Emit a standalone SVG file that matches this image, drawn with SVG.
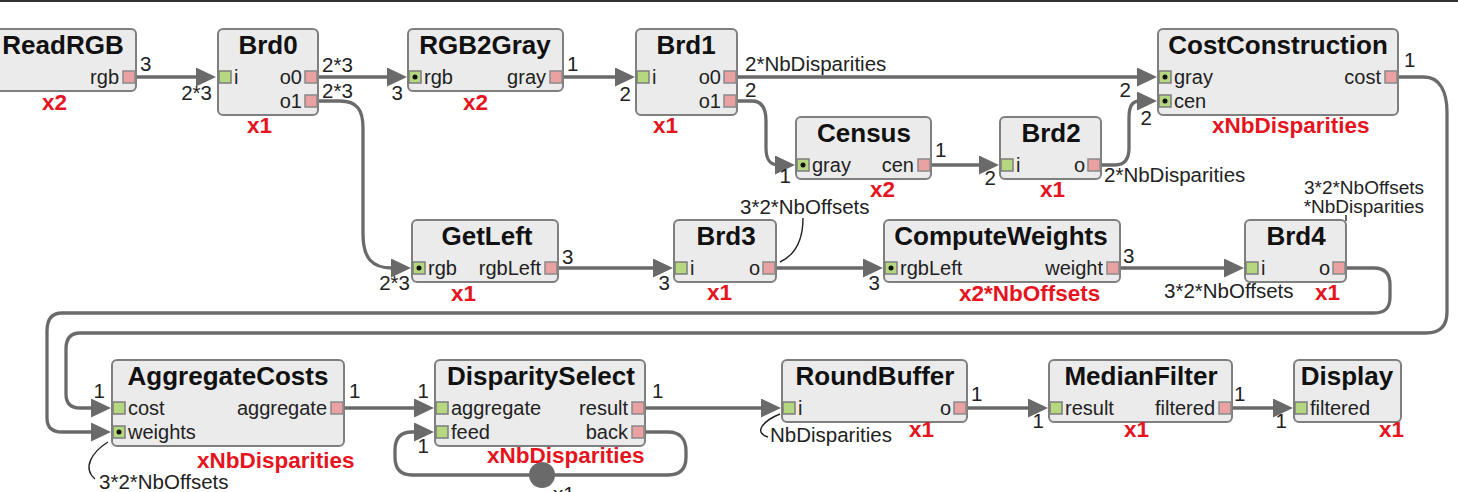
<svg xmlns="http://www.w3.org/2000/svg" width="1458" height="492" viewBox="0 0 1458 492">
<style>
text{font-family:"Liberation Sans",Arial,sans-serif}
.box{fill:#ebebeb;stroke:#7f7f7f;stroke-width:2}
.title{font-size:26px;font-weight:bold;fill:#111;text-anchor:middle}
.pl{font-size:20px;fill:#222}
.pr{font-size:20px;fill:#222;text-anchor:end}
.rate{font-size:20.5px;fill:#222}
.rateE{font-size:20.5px;fill:#222;text-anchor:end}
.rate2{font-size:19px;fill:#222;text-anchor:end}
.rep{font-size:22.5px;font-weight:bold;fill:#e5141e}
.pin{fill:#b4d77f;stroke:#7d7d7d;stroke-width:1.5}
.pout{fill:#e9a1a1;stroke:#8a8a8a;stroke-width:1.5}
.dot{fill:#111}
.conn{fill:none;stroke:#6a6a6a;stroke-width:3.3;marker-end:url(#ah)}
.lead{fill:none;stroke:#222;stroke-width:1.4}
</style>
<defs>
<marker id="ah" markerUnits="userSpaceOnUse" markerWidth="20" markerHeight="19" refX="12" refY="9.5" orient="auto" viewBox="0 0 20 19">
<path d="M0,0 L20,9.5 L0,19 z" fill="#6a6a6a"/>
</marker>
</defs>
<rect x="0" y="0" width="1458" height="2" fill="#333"/>

<g id="connectors">
<path class="conn" d="M136,77 H208"/>
<path class="conn" d="M318,77 H399"/>
<path class="conn" d="M318,101 H340 C357,101 363,110 363,128 V234 C363,258 372,268 392,268 H403"/>
<path class="conn" d="M563,77 H627"/>
<path class="conn" d="M737,77 H1149"/>
<path class="conn" d="M737,101 H752 C762,101 766,109 766,121 V148 C766,160 770,165 779,165 H787"/>
<path class="conn" d="M931,165 H991"/>
<path class="conn" d="M1101,165 H1115 C1125,165 1129,158 1129,148 V118 C1129,106 1132,101 1140,101 H1149"/>
<path class="conn" d="M558,268 H665"/>
<path class="conn" d="M776,268 H875"/>
<path class="conn" d="M1120,268 H1236"/>
<path class="conn" d="M1346,268 H1374 C1385,268 1390,274 1390,285 V297 C1390,308 1385,313 1374,313 H62 C51,313 47,320 47,331 V418 C47,427 52,432 62,432 H103"/>
<path class="conn" d="M1398,77 H1424 C1440,77 1447,92 1447,112 V312 C1447,326 1440,333 1426,333 H80 C70,333 66,339 66,349 V394 C66,403 70,408 80,408 H103"/>
<path class="conn" d="M344,408 H426"/>
<path class="conn" d="M645,432 H668 C680,432 686,439 686,451 V457 C686,469 680,475 668,475 H412 C401,475 395,469 395,457 V450 C395,438 401,432 412,432 H426"/>
<circle cx="542" cy="475" r="13" fill="#6a6a6a"/>
<text class="rate" x="553" y="501" fill="#333">x1</text>
<path class="conn" d="M645,408 H773"/>
<path class="conn" d="M967,408 H1040"/>
<path class="conn" d="M1232,408 H1285"/>

<path class="lead" d="M780,262 C795,255 803,240 803,218"/>
<path class="lead" d="M1346,215 V221"/>
<path class="lead" d="M108,442 C92,452 82,468 95,479"/>
<path class="lead" d="M780,414 C765,420 752,432 768,437"/>

<text class="rate" x="140" y="71">3</text>
<text class="rateE" x="212" y="100">2*3</text>
<text class="rate" x="322" y="72">2*3</text>
<text class="rateE" x="403" y="100">3</text>
<text class="rate" x="322" y="98">2*3</text>
<text class="rateE" x="410" y="290">2*3</text>
<text class="rate" x="567" y="71">1</text>
<text class="rateE" x="631" y="101">2</text>
<text class="rate" x="745" y="71">2*NbDisparities</text>
<text class="rate" x="745" y="97">2</text>
<text class="rateE" x="1131" y="97">2</text>
<text class="rateE" x="791" y="183">1</text>
<text class="rate" x="935" y="157">1</text>
<text class="rateE" x="996" y="185">2</text>
<text class="rate" x="1104" y="182">2*NbDisparities</text>
<text class="rateE" x="1152" y="125">2</text>
<text class="rate" x="1404" y="67">1</text>
<text class="rate" x="562" y="264">3</text>
<text class="rateE" x="670" y="290">3</text>
<text class="rate" x="740" y="214">3*2*NbOffsets</text>
<text class="rateE" x="880" y="290">3</text>
<text class="rate" x="1123" y="263">3</text>
<text class="rate" x="1164" y="298">3*2*NbOffsets</text>
<text class="rate2" x="1424" y="194">3*2*NbOffsets</text>
<text class="rate2" x="1424" y="213">*NbDisparities</text>
<text class="rateE" x="105" y="398">1</text>
<text class="rate" x="99" y="489">3*2*NbOffsets</text>
<text class="rate" x="349" y="398">1</text>
<text class="rateE" x="429" y="398">1</text>
<text class="rateE" x="429" y="453">1</text>
<text class="rate" x="652" y="398">1</text>
<text class="rate" x="770" y="442">NbDisparities</text>
<text class="rate" x="971" y="401">1</text>
<text class="rateE" x="1044" y="428">1</text>
<text class="rate" x="1234" y="401">1</text>
<text class="rateE" x="1287" y="428">1</text>
</g>

<g id="ReadRGB">
<rect class="box" x="-8" y="29" width="144" height="62" rx="5"/>
<text class="title" x="63" y="54">ReadRGB</text>
<rect class="pout" x="123" y="71" width="12" height="12"/>
<text class="pr" x="119" y="84">rgb</text>
<text class="rep" x="42" y="110">x2</text>
</g>

<g id="Brd0">
<rect class="box" x="218" y="29" width="100" height="86" rx="5"/>
<text class="title" x="268" y="54">Brd0</text>
<rect class="pin" x="219" y="71" width="12" height="12"/>
<text class="pl" x="234" y="84">i</text>
<rect class="pout" x="305" y="71" width="12" height="12"/>
<text class="pr" x="302" y="84">o0</text>
<rect class="pout" x="305" y="95" width="12" height="12"/>
<text class="pr" x="302" y="108">o1</text>
<text class="rep" x="247" y="133">x1</text>
</g>

<g id="RGB2Gray">
<rect class="box" x="408" y="29" width="155" height="62" rx="5"/>
<text class="title" x="485" y="54">RGB2Gray</text>
<rect class="pin" x="409" y="71" width="12" height="12"/>
<circle class="dot" cx="415" cy="77" r="2.5"/>
<text class="pl" x="424" y="84">rgb</text>
<rect class="pout" x="550" y="71" width="12" height="12"/>
<text class="pr" x="546" y="84">gray</text>
<text class="rep" x="463" y="110">x2</text>
</g>

<g id="Brd1">
<rect class="box" x="636" y="29" width="101" height="86" rx="5"/>
<text class="title" x="686" y="54">Brd1</text>
<rect class="pin" x="637" y="71" width="12" height="12"/>
<text class="pl" x="652" y="84">i</text>
<rect class="pout" x="724" y="71" width="12" height="12"/>
<text class="pr" x="721" y="84">o0</text>
<rect class="pout" x="724" y="95" width="12" height="12"/>
<text class="pr" x="721" y="108">o1</text>
<text class="rep" x="653" y="133">x1</text>
</g>

<g id="CostConstruction">
<rect class="box" x="1158" y="29" width="240" height="86" rx="5"/>
<text class="title" x="1278" y="54">CostConstruction</text>
<rect class="pin" x="1159" y="71" width="12" height="12"/>
<circle class="dot" cx="1165" cy="77" r="2.5"/>
<text class="pl" x="1174" y="84">gray</text>
<rect class="pin" x="1159" y="95" width="12" height="12"/>
<circle class="dot" cx="1165" cy="101" r="2.5"/>
<text class="pl" x="1174" y="108">cen</text>
<rect class="pout" x="1385" y="71" width="12" height="12"/>
<text class="pr" x="1381" y="84">cost</text>
<text class="rep" x="1212" y="133">xNbDisparities</text>
</g>

<g id="Census">
<rect class="box" x="796" y="117" width="135" height="62" rx="5"/>
<text class="title" x="864" y="142">Census</text>
<rect class="pin" x="797" y="159" width="12" height="12"/>
<circle class="dot" cx="803" cy="165" r="2.5"/>
<text class="pl" x="812" y="172">gray</text>
<rect class="pout" x="918" y="159" width="12" height="12"/>
<text class="pr" x="914" y="172">cen</text>
<text class="rep" x="870" y="197">x2</text>
</g>

<g id="Brd2">
<rect class="box" x="1000" y="117" width="101" height="62" rx="5"/>
<text class="title" x="1051" y="142">Brd2</text>
<rect class="pin" x="1001" y="159" width="12" height="12"/>
<text class="pl" x="1016" y="172">i</text>
<rect class="pout" x="1088" y="159" width="12" height="12"/>
<text class="pr" x="1085" y="172">o</text>
<text class="rep" x="1040" y="197">x1</text>
</g>

<g id="GetLeft">
<rect class="box" x="412" y="220" width="146" height="62" rx="5"/>
<text class="title" x="487" y="245">GetLeft</text>
<rect class="pin" x="413" y="262" width="12" height="12"/>
<circle class="dot" cx="419" cy="268" r="2.5"/>
<text class="pl" x="428" y="275">rgb</text>
<rect class="pout" x="545" y="262" width="12" height="12"/>
<text class="pr" x="541" y="275">rgbLeft</text>
<text class="rep" x="451" y="301">x1</text>
</g>

<g id="Brd3">
<rect class="box" x="674" y="220" width="102" height="62" rx="5"/>
<text class="title" x="726" y="245">Brd3</text>
<rect class="pin" x="675" y="262" width="12" height="12"/>
<text class="pl" x="690" y="275">i</text>
<rect class="pout" x="763" y="262" width="12" height="12"/>
<text class="pr" x="760" y="275">o</text>
<text class="rep" x="707" y="300">x1</text>
</g>

<g id="ComputeWeights">
<rect class="box" x="884" y="220" width="236" height="62" rx="5"/>
<text class="title" x="1001" y="245">ComputeWeights</text>
<rect class="pin" x="885" y="262" width="12" height="12"/>
<circle class="dot" cx="891" cy="268" r="2.5"/>
<text class="pl" x="900" y="275">rgbLeft</text>
<rect class="pout" x="1107" y="262" width="12" height="12"/>
<text class="pr" x="1103" y="275">weight</text>
<text class="rep" x="959" y="301">x2*NbOffsets</text>
</g>

<g id="Brd4">
<rect class="box" x="1245" y="220" width="101" height="62" rx="5"/>
<text class="title" x="1296" y="245">Brd4</text>
<rect class="pin" x="1246" y="262" width="12" height="12"/>
<text class="pl" x="1261" y="275">i</text>
<rect class="pout" x="1333" y="262" width="12" height="12"/>
<text class="pr" x="1330" y="275">o</text>
<text class="rep" x="1315" y="300">x1</text>
</g>

<g id="AggregateCosts">
<rect class="box" x="112" y="360" width="232" height="86" rx="5"/>
<text class="title" x="228" y="385">AggregateCosts</text>
<rect class="pin" x="113" y="402" width="12" height="12"/>
<text class="pl" x="128" y="415">cost</text>
<rect class="pin" x="113" y="426" width="12" height="12"/>
<circle class="dot" cx="119" cy="432" r="2.5"/>
<text class="pl" x="128" y="439">weights</text>
<rect class="pout" x="331" y="402" width="12" height="12"/>
<text class="pr" x="327" y="415">aggregate</text>
<text class="rep" x="197" y="468">xNbDisparities</text>
</g>

<g id="DisparitySelect">
<rect class="box" x="435" y="360" width="210" height="86" rx="5"/>
<text class="title" x="541" y="385">DisparitySelect</text>
<rect class="pin" x="436" y="402" width="12" height="12"/>
<text class="pl" x="451" y="415">aggregate</text>
<rect class="pin" x="436" y="426" width="12" height="12"/>
<text class="pl" x="451" y="439">feed</text>
<rect class="pout" x="632" y="402" width="12" height="12"/>
<text class="pr" x="628" y="415">result</text>
<rect class="pout" x="632" y="426" width="12" height="12"/>
<text class="pr" x="628" y="439">back</text>
<text class="rep" x="487" y="463">xNbDisparities</text>
</g>

<g id="RoundBuffer">
<rect class="box" x="782" y="360" width="185" height="62" rx="5"/>
<text class="title" x="875" y="385">RoundBuffer</text>
<rect class="pin" x="783" y="402" width="12" height="12"/>
<text class="pl" x="798" y="415">i</text>
<rect class="pout" x="954" y="402" width="12" height="12"/>
<text class="pr" x="951" y="415">o</text>
<text class="rep" x="909" y="437">x1</text>
</g>

<g id="MedianFilter">
<rect class="box" x="1049" y="360" width="183" height="62" rx="5"/>
<text class="title" x="1141" y="385">MedianFilter</text>
<rect class="pin" x="1050" y="402" width="12" height="12"/>
<text class="pl" x="1065" y="415">result</text>
<rect class="pout" x="1219" y="402" width="12" height="12"/>
<text class="pr" x="1215" y="415">filtered</text>
<text class="rep" x="1124" y="437">x1</text>
</g>

<g id="Display">
<rect class="box" x="1294" y="360" width="107" height="62" rx="5"/>
<text class="title" x="1347" y="385">Display</text>
<rect class="pin" x="1295" y="402" width="12" height="12"/>
<text class="pl" x="1310" y="415">filtered</text>
<text class="rep" x="1379" y="437">x1</text>
</g>
</svg>
